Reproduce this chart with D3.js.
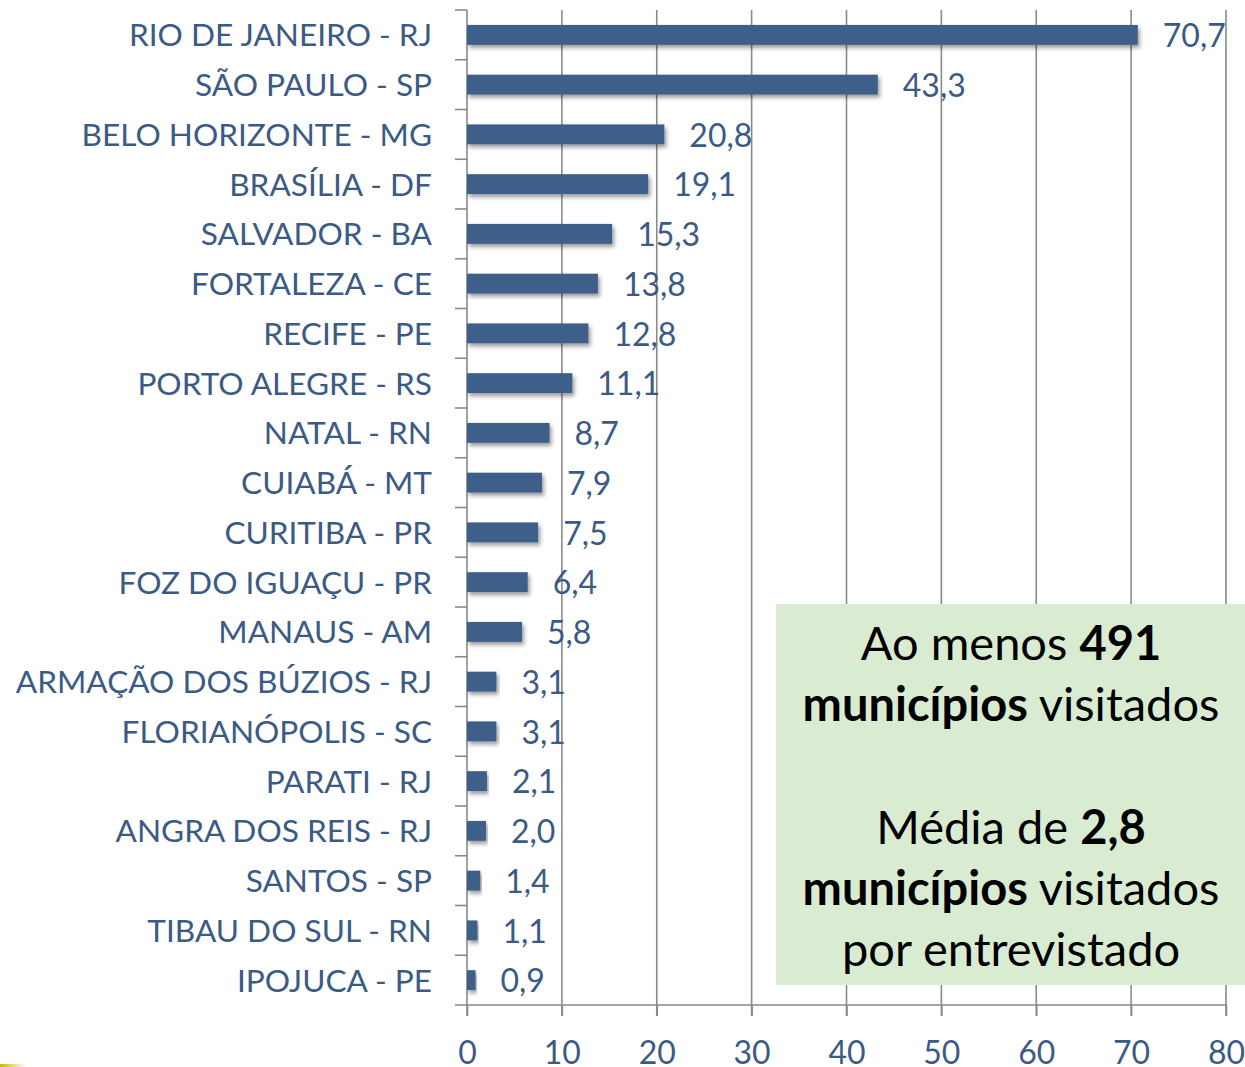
<!DOCTYPE html>
<html><head><meta charset="utf-8">
<script src="https://cdn.jsdelivr.net/npm/d3@7"></script>
<style>html,body{margin:0;padding:0;background:#fff;}svg{display:block;}</style>
</head><body>
<svg id="chart" width="1245" height="1067"></svg>
<script>
const categories = ["RIO DE JANEIRO - RJ","SÃO PAULO - SP","BELO HORIZONTE - MG","BRASÍLIA - DF","SALVADOR - BA","FORTALEZA - CE","RECIFE - PE","PORTO ALEGRE - RS","NATAL - RN","CUIABÁ - MT","CURITIBA - PR","FOZ DO IGUAÇU - PR","MANAUS - AM","ARMAÇÃO DOS BÚZIOS - RJ","FLORIANÓPOLIS - SC","PARATI - RJ","ANGRA DOS REIS - RJ","SANTOS - SP","TIBAU DO SUL - RN","IPOJUCA - PE"];
const values = [70.7,43.3,20.8,19.1,15.3,13.8,12.8,11.1,8.7,7.9,7.5,6.4,5.8,3.1,3.1,2.1,2.0,1.4,1.1,0.9];
const xTicks = [0,10,20,30,40,50,60,70,80];
const boxLines = [
  [["Ao menos ",false],["491",true]],
  [["municípios",true],[" visitados",false]],
  [],
  [["Média de ",false],["2,8",true]],
  [["municípios",true],[" visitados",false]],
  [["por entrevistado",false]]
];

const svg = d3.select("#chart");
const font = "Lato, 'Open Sans', sans-serif";
const textCol = "#3b5b85", barCol = "#3e5f8a", axisCol = "#8a8a8a";
const x0 = 467, x1 = 1226, yTop = 10, yBot = 1005;

const x = d3.scaleLinear().domain([0,80]).range([x0,x1]);
const y = d3.scaleBand().domain(categories).range([yTop,yBot]).paddingInner(0.6).paddingOuter(0.3);
const fmt = v => d3.format(".1f")(v).replace(".", ",");

const defs = svg.append("defs");
const f = defs.append("filter").attr("id","sh").attr("x","-5%").attr("y","-50%").attr("width","115%").attr("height","250%");
f.append("feDropShadow").attr("dx",2).attr("dy",3).attr("stdDeviation",2.2).attr("flood-color","#000").attr("flood-opacity",0.4);
const g = defs.append("linearGradient").attr("id","yel");
g.append("stop").attr("offset","0%").attr("stop-color","#c9b800");
g.append("stop").attr("offset","100%").attr("stop-color","#c9b800").attr("stop-opacity",0);

// gridlines
svg.append("g").selectAll("line").data(xTicks.slice(1)).join("line")
  .attr("x1",d=>x(d)).attr("x2",d=>x(d)).attr("y1",yTop).attr("y2",yBot+11)
  .attr("stroke",axisCol).attr("stroke-width",1.6);

// x axis
const xa = svg.append("g").attr("transform",`translate(0,${yBot})`)
  .call(d3.axisBottom(x).tickValues(xTicks).tickSize(11).tickFormat(d=>d));
xa.select(".domain").remove();
xa.selectAll(".tick line").attr("stroke",axisCol).attr("stroke-width",1.6);
xa.selectAll(".tick text").attr("fill",textCol).style("font-family",font).style("font-size","32px").attr("y",33).attr("dy","0.8em");
svg.append("line").attr("x1",x0-12).attr("x2",x1).attr("y1",yBot).attr("y2",yBot).attr("stroke",axisCol).attr("stroke-width",1.6);

// y axis line and ticks at category boundaries
svg.append("line").attr("x1",x0).attr("x2",x0).attr("y1",yTop).attr("y2",yBot+11).attr("stroke",axisCol).attr("stroke-width",1.6);
svg.append("g").selectAll("line").data(categories).join("line")
  .attr("x1",x0-12).attr("x2",x0)
  .attr("y1",c=>y(c)+y.bandwidth()/2 - y.step()/2).attr("y2",c=>y(c)+y.bandwidth()/2 - y.step()/2)
  .attr("stroke",axisCol).attr("stroke-width",1.6);

// bars
svg.append("g").selectAll("rect").data(values).join("rect")
  .attr("x",x(0)).attr("y",(d,i)=>y(categories[i])).attr("width",d=>x(d)-x(0)).attr("height",y.bandwidth())
  .attr("fill",barCol).attr("filter","url(#sh)");

// category labels
svg.append("g").selectAll("text").data(categories).join("text")
  .attr("x",432).attr("y",c=>y(c)+y.bandwidth()/2).attr("dy","0.36em")
  .attr("text-anchor","end").attr("fill",textCol)
  .style("font-family",font).style("font-size","31.6px").text(d=>d);

// value labels
svg.append("g").selectAll("text").data(values).join("text")
  .attr("x",d=>x(d)+25).attr("y",(d,i)=>y(categories[i])+y.bandwidth()/2).attr("dy","0.38em")
  .attr("fill",textCol).style("font-family",font).style("font-size","32px").text(d=>fmt(d));

// green box
svg.append("rect").attr("x",776).attr("y",604).attr("width",469).attr("height",381).attr("fill","#d9ecd2");
const bt = svg.append("g");
boxLines.forEach((line,i)=>{
  if(!line.length) return;
  const t = bt.append("text").attr("x",1011).attr("y",643 + i*61.3).attr("dy","0.36em")
    .attr("text-anchor","middle").attr("fill","#000").style("font-family",font).style("font-size","47px");
  line.forEach(([s,b])=>t.append("tspan").attr("font-weight",b?"bold":"normal").text(s));
});

// small yellow mark bottom-left
svg.append("rect").attr("x",0).attr("y",1064).attr("width",26).attr("height",3).attr("fill","url(#yel)");
</script>
</body></html>
